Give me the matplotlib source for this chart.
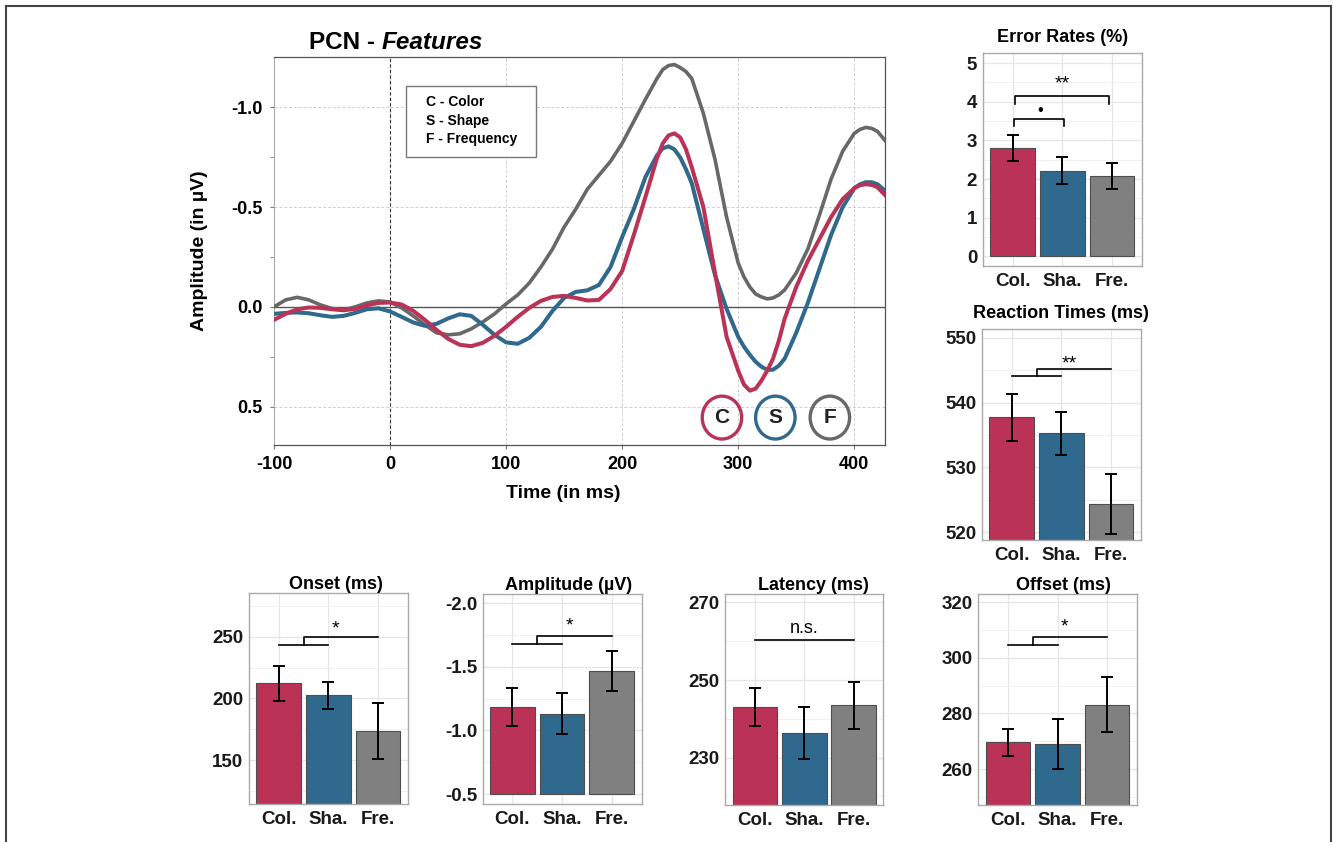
import numpy as np
import matplotlib
matplotlib.use("Agg")
import matplotlib.pyplot as plt
from matplotlib.lines import Line2D
from matplotlib.patches import Rectangle, Ellipse
from matplotlib.ticker import FixedLocator, FormatStrFormatter

plt.rcParams['font.family'] = ['Liberation Sans', 'DejaVu Sans']
plt.rcParams['axes.unicode_minus'] = False

# ---------------- data ----------------
time_ms = [-100, -90, -80, -70, -60, -50, -40, -30, -20, -10,
           0, 10, 20, 30, 40, 50, 60, 70, 80, 90,
           100, 110, 120, 130, 140, 150, 160, 170, 180, 190,
           200, 210, 220, 230, 235, 240, 245, 250, 255, 260,
           270, 280, 290, 300, 305, 310, 315, 320, 325, 330,
           335, 340, 350, 360, 370, 380, 390, 400, 405, 410,
           415, 420, 430]

pcn_color = [0.065, 0.035, 0.012, 0.003, 0.005, 0.012, 0.017, 0.01, -0.008, -0.02,
             -0.022, -0.012, 0.02, 0.065, 0.115, 0.16, 0.19, 0.197, 0.18, 0.145,
             0.1, 0.05, 0.005, -0.03, -0.05, -0.055, -0.045, -0.032, -0.035, -0.09,
             -0.18, -0.36, -0.55, -0.745, -0.82, -0.86, -0.87, -0.85, -0.79, -0.70,
             -0.5, -0.17, 0.15, 0.32, 0.39, 0.42, 0.41, 0.37, 0.32, 0.26,
             0.17, 0.06, -0.1, -0.23, -0.34, -0.45, -0.54, -0.595, -0.61, -0.615,
             -0.612, -0.6, -0.54]

pcn_shape = [0.035, 0.03, 0.028, 0.032, 0.042, 0.05, 0.045, 0.03, 0.012, 0.007,
             0.023, 0.05, 0.078, 0.095, 0.085, 0.058, 0.037, 0.045, 0.09, 0.14,
             0.178, 0.185, 0.155, 0.1, 0.02, -0.045, -0.075, -0.083, -0.11, -0.2,
             -0.35, -0.49, -0.65, -0.76, -0.795, -0.805, -0.79, -0.75, -0.69, -0.62,
             -0.39, -0.16, 0.01, 0.15, 0.2, 0.24, 0.275, 0.30, 0.315, 0.315,
             0.295, 0.26, 0.13, -0.02, -0.19, -0.36, -0.5, -0.595, -0.615, -0.625,
             -0.625, -0.615, -0.565]

pcn_freq = [0.0, -0.035, -0.048, -0.035, -0.01, 0.008, 0.015, 0.0, -0.02, -0.03,
            -0.025, 0.005, 0.045, 0.09, 0.13, 0.14, 0.135, 0.11, 0.075, 0.035,
            -0.015, -0.06, -0.12, -0.2, -0.29, -0.4, -0.49, -0.59, -0.66, -0.73,
            -0.82, -0.93, -1.04, -1.145, -1.19, -1.21, -1.215, -1.2, -1.18, -1.145,
            -0.97, -0.74, -0.45, -0.22, -0.15, -0.1, -0.065, -0.05, -0.04, -0.045,
            -0.06, -0.085, -0.17, -0.29, -0.46, -0.64, -0.78, -0.87, -0.89, -0.9,
            -0.895, -0.88, -0.81]

conditions = ["Col.", "Sha.", "Fre."]

error_rate = [2.81, 2.22, 2.08]
error_rate_se = [0.33, 0.36, 0.33]

reaction_time = [537.7, 535.25, 524.3]
reaction_time_se = [3.6, 3.3, 4.65]

onset = [212.2, 202.4, 173.5]
onset_se = [14.2, 11.2, 22.8]

amplitude = [-1.184, -1.131, -1.464]
amplitude_se = [0.15, 0.16, 0.157]

latency = [243.1, 236.3, 243.5]
latency_se = [4.9, 6.7, 6.0]

offset = [269.6, 268.9, 283.2]
offset_se = [4.8, 9.0, 10.0]

# ---------------- style ----------------
RED = '#BA3356'
BLUE = '#30698E'
GRAY_LINE = '#686868'
GRAY_BAR = '#808080'
bar_colors = [RED, BLUE, GRAY_BAR]

W, H = 1333, 842
fig = plt.figure(figsize=(W / 100, H / 100), dpi=100)


def rect(l, t, r, b):
    return [l / W, 1 - b / H, (r - l) / W, (b - t) / H]


# outer frame
for xs, ys in [([6, 1331], [6, 6]), ([6, 6], [6, 842]), ([1331, 1331], [6, 842])]:
    fig.add_artist(Line2D([x / W for x in xs], [1 - y / H for y in ys],
                          color='#444444', lw=1.5))

# ---------------- main ERP plot ----------------
ax = fig.add_axes(rect(274, 57, 885, 444.5))
ax.plot(time_ms, pcn_freq, color=GRAY_LINE, lw=2.6, zorder=3,
        solid_joinstyle='round')
ax.plot(time_ms, pcn_shape, color=BLUE, lw=2.9, zorder=4,
        solid_joinstyle='round')
ax.plot(time_ms, pcn_color, color=RED, lw=2.9, zorder=5,
        solid_joinstyle='round')

ax.set_xlim(-100, 426.5)
ax.set_ylim(0.69, -1.253)
ax.set_xticks([-100, 0, 100, 200, 300, 400])
ax.set_yticks([-1.0, -0.5, 0.0, 0.5])
ax.yaxis.set_minor_locator(FixedLocator([-0.75, -0.25, 0.25]))
ax.yaxis.set_major_formatter(FormatStrFormatter('%.1f'))
ax.grid(True, which='major', color='#cfcfcf', lw=0.7, ls=(0, (3, 2)))
ax.axhline(0, color='#555555', lw=1.0, zorder=2)
ax.axvline(0, color='#333333', lw=0.8, ls=(0, (3, 2)), zorder=2)
for side in ['top', 'right', 'bottom']:
    ax.spines[side].set_color('#555555')
    ax.spines[side].set_linewidth(0.9)
ax.spines['left'].set_color('#aaaaaa')
ax.tick_params(axis='both', which='major', length=3, color='#777777',
               labelsize=13, pad=5)
ax.tick_params(axis='y', which='minor', length=3, color='#777777')
for lab in ax.get_xticklabels() + ax.get_yticklabels():
    lab.set_fontweight('bold')
ax.set_xlabel('Time (in ms)', fontsize=14, fontweight='bold')
ax.set_ylabel('Amplitude (in µV)', fontsize=14, fontweight='bold')
ax.xaxis.set_label_coords(0.473, -0.105)
ax.yaxis.set_label_coords(-0.108, 0.5)

# legend box
ax.add_patch(Rectangle((0.216, 0.742), 0.213, 0.183, transform=ax.transAxes,
                       facecolor='white', edgecolor='#777777', lw=1, zorder=6))
for i, (k, name) in enumerate([('C', 'Color'), ('S', 'Shape'), ('F', 'Frequency')]):
    ax.text(0.249, 0.884 - i * 0.048, f'{k} - {name}', transform=ax.transAxes,
            fontsize=10, fontweight='bold', va='center', ha='left', zorder=7)

# condition circles
for t, lbl, col in [(286, 'C', RED), (332, 'S', BLUE), (379, 'F', GRAY_LINE)]:
    ax.add_patch(Ellipse((t, 0.555), 34, 0.215, facecolor='none', edgecolor=col,
                         lw=2.4, zorder=6))
    ax.text(t, 0.555, lbl, ha='center', va='center', fontsize=15,
            fontweight='bold', color='#222222', zorder=7)

# title
t1 = fig.text(309 / W, 1 - 49 / H, 'PCN - ', fontsize=17.5, fontweight='bold',
              va='baseline')
fig.canvas.draw()
bb = t1.get_window_extent(fig.canvas.get_renderer())
fig.text(bb.x1 / W, 1 - 49 / H, 'Features', fontsize=17.5, fontweight='bold',
         style='italic', va='baseline')


# ---------------- bar panels ----------------
def bar_panel(box, values, errors, ylim, major, minor, title, base=None,
              fmt=None, title_x=0.5, title_pad=8):
    a = fig.add_axes(rect(*box))
    x = np.arange(len(conditions))
    bottom = ylim[0] if base is None else base
    a.bar(x, [v - bottom for v in values], bottom=bottom, width=0.9,
          color=bar_colors, edgecolor='#4d4d4d', lw=0.8, zorder=2)
    a.errorbar(x, values, yerr=errors, fmt='none', ecolor='black',
               elinewidth=1.4, capsize=4, capthick=1.4, zorder=3)
    a.set_xlim(-0.6, 2.6)
    a.set_ylim(*ylim)
    a.set_xticks(x)
    a.set_xticklabels(conditions)
    a.yaxis.set_major_locator(FixedLocator(major))
    a.yaxis.set_minor_locator(FixedLocator(minor))
    if fmt:
        a.yaxis.set_major_formatter(FormatStrFormatter(fmt))
    a.grid(True, which='major', color='#e6e6e6', lw=0.9, zorder=0)
    a.grid(True, which='minor', axis='y', color='#f0f0f0', lw=0.7, zorder=0)
    a.set_axisbelow(True)
    for s in a.spines.values():
        s.set_color('#aaaaaa')
        s.set_linewidth(1)
    a.tick_params(axis='both', which='both', length=0, labelsize=13.5,
                  colors='#1a1a1a')
    a.tick_params(axis='x', pad=5)
    a.tick_params(axis='y', pad=4)
    for lab in a.get_xticklabels() + a.get_yticklabels():
        lab.set_fontweight('bold')
    a.set_title(title, fontsize=13, fontweight='bold', x=title_x, pad=title_pad)
    return a


def nested_bracket(a, y_low, y_high, label, label_y):
    a.plot([0, 1], [y_low, y_low], color='black', lw=1.2)
    a.plot([0.5, 0.5, 2], [y_low, y_high, y_high], color='black', lw=1.2)
    a.text(1.15, label_y, label, ha='center', va='center', fontsize=14)


ax_er = bar_panel((982.7, 53, 1141.7, 265.7), error_rate, error_rate_se,
                  (-0.24, 5.26), [0, 1, 2, 3, 4, 5],
                  [0.5, 1.5, 2.5, 3.5, 4.5], 'Error Rates (%)', base=0)
ax_er.plot([0.05, 0.05, 1.95, 1.95], [3.95, 4.14, 4.14, 3.95], color='black', lw=1.2)
ax_er.text(1.0, 4.45, '**', ha='center', va='center', fontsize=14)
ax_er.plot([0.02, 0.02, 1.04, 1.04], [3.36, 3.56, 3.56, 3.36], color='black', lw=1.2)
ax_er.text(0.55, 3.78, '•', ha='center', va='center', fontsize=12)

ax_rt = bar_panel((982, 329.3, 1140.7, 540), reaction_time, reaction_time_se,
                  (518.8, 551.3), [520, 530, 540, 550], [525, 535, 545],
                  'Reaction Times (ms)')
nested_bracket(ax_rt, 544.1, 545.2, '**', 546.0)

ax_on = bar_panel((249, 593.3, 407.7, 804.3), onset, onset_se,
                  (114.1, 285.2), [150, 200, 250], [125, 175, 225, 275],
                  'Onset (ms)', title_x=0.545, title_pad=2)
nested_bracket(ax_on, 243.3, 249.8, '*', 256.5)

ax_am = bar_panel((482.7, 594.3, 641.5, 804.3), amplitude, amplitude_se,
                  (-0.42, -2.07), [-2.0, -1.5, -1.0, -0.5],
                  [-1.75, -1.25, -0.75], 'Amplitude (µV)', base=-0.5,
                  fmt='%.1f', title_x=0.54, title_pad=2)
nested_bracket(ax_am, -1.68, -1.743, '*', -1.82)

ax_la = bar_panel((725.3, 594.3, 883.3, 805), latency, latency_se,
                  (217.8, 272.1), [230, 250, 270], [220, 240, 260],
                  'Latency (ms)', title_x=0.555, title_pad=2)
ax_la.plot([0, 2], [260.2, 260.2], color='black', lw=1.2)
ax_la.text(1.0, 263.3, 'n.s.', ha='center', va='center', fontsize=13)

ax_of = bar_panel((978.3, 594.3, 1136.7, 805), offset, offset_se,
                  (247.05, 322.9), [260, 280, 300, 320], [250, 270, 290, 310],
                  'Offset (ms)', title_x=0.535, title_pad=2)
nested_bracket(ax_of, 304.8, 307.7, '*', 311.0)

fig.savefig('out.png', dpi=100)
